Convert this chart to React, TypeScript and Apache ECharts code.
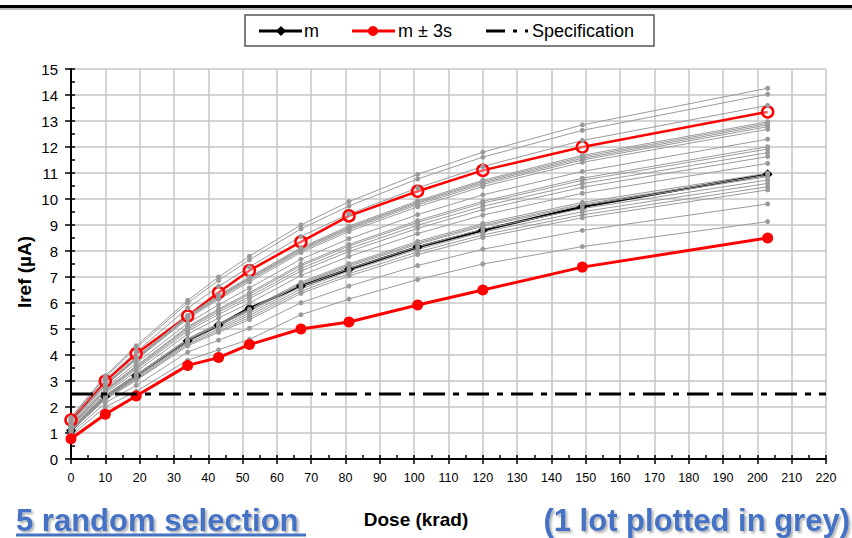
import React, { useEffect, useRef } from "react";
import * as echarts from "echarts";

const dose = [0, 10, 19, 34, 43, 52, 67, 81, 101, 120, 149, 203];
const mean = [1.1, 2.4, 3.2, 4.55, 5.15, 5.8, 6.65, 7.3, 8.15, 8.8, 9.7, 10.95];
const meanPlus3s = [1.5, 3.0, 4.05, 5.5, 6.4, 7.25, 8.35, 9.35, 10.3, 11.1, 12.0, 13.35];
const meanMinus3s = [0.78, 1.72, 2.42, 3.6, 3.9, 4.4, 5.0, 5.27, 5.92, 6.5, 7.38, 8.5];
const specLimit = 2.5;
const xTickMin = 0;
const xTickMax = 220;
const yTickMin = 0;
const yTickMax = 15;

const greyDevices = [
  [1.6, 3.2, 4.35, 6.1, 7.0, 7.8, 9.0, 9.9, 10.95, 11.8, 12.85, 14.26],
  [1.57, 3.15, 4.27, 6.0, 6.87, 7.66, 8.85, 9.73, 10.77, 11.61, 12.64, 14.03],
  [1.51, 3.05, 4.12, 5.8, 6.64, 7.39, 8.56, 9.42, 10.43, 11.25, 12.25, 13.6],
  [1.42, 2.9, 3.91, 5.52, 6.3, 7.0, 8.13, 8.96, 9.93, 10.72, 11.68, 12.97],
  [1.42, 2.88, 3.89, 5.5, 6.26, 6.96, 8.09, 8.91, 9.88, 10.67, 11.62, 12.91],
  [1.41, 2.87, 3.87, 5.47, 6.23, 6.92, 8.05, 8.87, 9.84, 10.62, 11.56, 12.85],
  [1.4, 2.85, 3.84, 5.44, 6.19, 6.88, 8.0, 8.82, 9.78, 10.56, 11.5, 12.78],
  [1.38, 2.83, 3.81, 5.39, 6.14, 6.81, 7.94, 8.75, 9.7, 10.48, 11.41, 12.68],
  [1.33, 2.74, 3.68, 5.22, 5.93, 6.58, 7.68, 8.47, 9.4, 10.16, 11.06, 12.3],
  [1.29, 2.67, 3.58, 5.09, 5.77, 6.4, 7.49, 8.25, 9.17, 9.91, 10.8, 12.01],
  [1.28, 2.65, 3.55, 5.05, 5.72, 6.34, 7.43, 8.19, 9.1, 9.84, 10.72, 11.92],
  [1.26, 2.62, 3.5, 4.99, 5.65, 6.25, 7.33, 8.09, 8.99, 9.72, 10.59, 11.78],
  [1.24, 2.58, 3.45, 4.92, 5.56, 6.16, 7.23, 7.98, 8.87, 9.59, 10.45, 11.63],
  [1.21, 2.52, 3.36, 4.81, 5.42, 6.0, 7.06, 7.79, 8.67, 9.38, 10.22, 11.37],
  [1.15, 2.44, 3.24, 4.63, 5.22, 5.76, 6.8, 7.51, 8.37, 9.06, 9.87, 10.99],
  [1.14, 2.42, 3.21, 4.6, 5.18, 5.72, 6.75, 7.46, 8.31, 9.0, 9.8, 10.92],
  [1.14, 2.4, 3.19, 4.58, 5.14, 5.68, 6.71, 7.41, 8.26, 8.95, 9.75, 10.86],
  [1.12, 2.37, 3.15, 4.52, 5.07, 5.6, 6.63, 7.32, 8.16, 8.84, 9.63, 10.73],
  [1.1, 2.34, 3.1, 4.46, 5.0, 5.52, 6.54, 7.23, 8.06, 8.73, 9.51, 10.6],
  [1.08, 2.31, 3.06, 4.4, 4.93, 5.44, 6.45, 7.13, 7.96, 8.62, 9.39, 10.47],
  [1.07, 2.29, 3.02, 4.35, 4.87, 5.36, 6.37, 7.04, 7.86, 8.52, 9.28, 10.35],
  [0.99, 2.16, 2.83, 4.11, 4.57, 5.03, 6.01, 6.65, 7.44, 8.07, 8.79, 9.81],
  [0.9, 2.0, 2.6, 3.8, 4.2, 4.6, 5.55, 6.15, 6.9, 7.5, 8.17, 9.13],
];

const legendLabels = ["m", "m \u00b1 3s", "Specification"];
const xAxisTitle = "Dose (krad)";
const yAxisTitle = "Iref (\u00b5A)";
const leftNote = "5 random selection";
const rightNote = "(1 lot plotted in grey)";

const FONT = "'Liberation Sans', Arial, sans-serif";
const BLUE = "#4472C4";
const GREY = "#9a9a9a";
const GRID = "#c6c6c6";

export default function App() {
  const ref = useRef<HTMLDivElement>(null);
  useEffect(() => {
    if (!ref.current) return;
    const chart = echarts.init(ref.current, null, { renderer: "svg" });
    const pairs = (ys: number[]) => dose.map((d, i) => [d, ys[i]]);

    const greySeries = greyDevices.map((ys, k) => ({
      name: "device" + (k + 1),
      type: "line",
      data: pairs(ys),
      symbol: "circle",
      symbolSize: 5,
      lineStyle: { color: GREY, width: 1 },
      itemStyle: { color: GREY },
      z: 3,
      silent: true,
    }));

    const option: any = {
      animation: false,
      backgroundColor: "#ffffff",
      grid: { left: 71, right: 26, top: 69, bottom: 79, containLabel: false },
      xAxis: [
        {
          type: "value",
          min: xTickMin,
          max: xTickMax,
          interval: 10,
          axisLine: { show: true, onZero: false, lineStyle: { color: "#000", width: 2 } },
          axisTick: { show: true, inside: false, length: 5, lineStyle: { color: "#000", width: 1.5 } },
          axisLabel: { color: "#000", fontFamily: FONT, fontSize: 12.5, margin: 12 },
          splitLine: { show: true, lineStyle: { color: GRID, width: 1.5 } },
        },
        {
          type: "value",
          position: "bottom",
          min: xTickMin,
          max: xTickMax,
          interval: 5,
          axisLine: { show: false },
          axisTick: { show: true, inside: true, length: 4, lineStyle: { color: "#000", width: 1.5 } },
          axisLabel: { show: false },
          splitLine: { show: false },
        },
      ],
      yAxis: [
        {
          type: "value",
          min: yTickMin,
          max: yTickMax,
          interval: 1,
          axisLine: { show: true, onZero: false, lineStyle: { color: "#000", width: 2 } },
          axisTick: { show: true, inside: false, length: 6, lineStyle: { color: "#000", width: 1.5 } },
          axisLabel: { color: "#000", fontFamily: FONT, fontSize: 15, margin: 13 },
          splitLine: { show: true, lineStyle: { color: GRID, width: 1.5 } },
        },
        {
          type: "value",
          position: "left",
          min: yTickMin,
          max: yTickMax,
          interval: 0.5,
          axisLine: { show: false },
          axisTick: { show: true, inside: true, length: 4, lineStyle: { color: "#000", width: 1.5 } },
          axisLabel: { show: false },
          splitLine: { show: false },
        },
      ],
      series: [
        {
          name: legendLabels[1] + " upper",
          type: "line",
          data: pairs(meanPlus3s),
          symbol: "circle",
          symbolSize: 11,
          lineStyle: { color: "#ff0000", width: 2.5 },
          itemStyle: { color: "rgba(255,255,255,0.35)", borderColor: "#ff0000", borderWidth: 2.5 },
          z: 3,
        },
        {
          name: legendLabels[0],
          type: "line",
          data: pairs(mean),
          symbol: "diamond",
          symbolSize: 10,
          lineStyle: { color: "#000", width: 2.5 },
          itemStyle: { color: "#000" },
          z: 3,
        },
        ...greySeries,
        {
          name: legendLabels[1] + " lower",
          type: "line",
          data: pairs(meanMinus3s),
          symbol: "circle",
          symbolSize: 11,
          lineStyle: { color: "#ff0000", width: 3 },
          itemStyle: { color: "#ff0000" },
          z: 4,
        },
        {
          name: legendLabels[2],
          type: "line",
          data: [
            [xTickMin, specLimit],
            [xTickMax, specLimit],
          ],
          symbol: "none",
          lineStyle: { color: "#000", width: 3, type: [22, 8, 6, 8] },
          z: 5,
        },
      ],
      graphic: [
        { type: "rect", shape: { x: 0, y: 5, width: 852, height: 3 }, style: { fill: "#000" } },
        { type: "rect", shape: { x: 0, y: 8, width: 852, height: 2 }, style: { fill: "#bbb" } },
        {
          type: "rect",
          shape: { x: 245, y: 15, width: 409, height: 31 },
          style: { fill: "#fff", stroke: "#555", lineWidth: 1.5 },
        },
        { type: "line", shape: { x1: 259, y1: 31, x2: 302, y2: 31 }, style: { stroke: "#000", lineWidth: 3 } },
        {
          type: "polygon",
          shape: { points: [[281, 26], [286, 31], [281, 36], [276, 31]] },
          style: { fill: "#000" },
        },
        {
          type: "text",
          x: 304,
          y: 31,
          style: { text: legendLabels[0], font: "18px " + FONT, fill: "#000", textAlign: "left", textVerticalAlign: "middle" },
        },
        { type: "line", shape: { x1: 352, y1: 31, x2: 395, y2: 31 }, style: { stroke: "#ff0000", lineWidth: 3 } },
        { type: "circle", shape: { cx: 373, cy: 31, r: 5 }, style: { fill: "#ff0000" } },
        {
          type: "text",
          x: 398,
          y: 31,
          style: { text: legendLabels[1], font: "18px " + FONT, fill: "#000", textAlign: "left", textVerticalAlign: "middle" },
        },
        {
          type: "line",
          shape: { x1: 486, y1: 31, x2: 528, y2: 31 },
          style: { stroke: "#000", lineWidth: 3, lineDash: [19, 8, 4, 8] },
        },
        {
          type: "text",
          x: 532,
          y: 31,
          style: { text: legendLabels[2], font: "18px " + FONT, fill: "#000", textAlign: "left", textVerticalAlign: "middle" },
        },
        {
          type: "text",
          x: 24,
          y: 272,
          rotation: Math.PI / 2,
          style: { text: yAxisTitle, font: "bold 19px " + FONT, fill: "#000", textAlign: "center", textVerticalAlign: "middle" },
        },
        {
          type: "text",
          x: 416,
          y: 519,
          style: { text: xAxisTitle, font: "bold 19px " + FONT, fill: "#000", textAlign: "center", textVerticalAlign: "middle" },
        },
        {
          type: "text",
          x: 16,
          y: 520,
          style: {
            text: leftNote,
            font: "bold 31px " + FONT,
            fill: BLUE,
            textAlign: "left",
            textVerticalAlign: "middle",
            textShadowColor: "rgba(0,0,0,0.3)",
            textShadowOffsetX: 2,
            textShadowOffsetY: 2,
            textShadowBlur: 2,
          },
        },
        { type: "line", shape: { x1: 16, y1: 535, x2: 306, y2: 535 }, style: { stroke: BLUE, lineWidth: 3 } },
        {
          type: "text",
          x: 850,
          y: 520,
          style: {
            text: rightNote,
            font: "bold 31px " + FONT,
            fill: BLUE,
            textAlign: "right",
            textVerticalAlign: "middle",
            textShadowColor: "rgba(0,0,0,0.3)",
            textShadowOffsetX: 2,
            textShadowOffsetY: 2,
            textShadowBlur: 2,
          },
        },
      ],
    };
    chart.setOption(option);
    return () => chart.dispose();
  }, []);
  return <div ref={ref} style={{ position: "absolute", left: 0, top: 0, width: 852, height: 538 }} />;
}
